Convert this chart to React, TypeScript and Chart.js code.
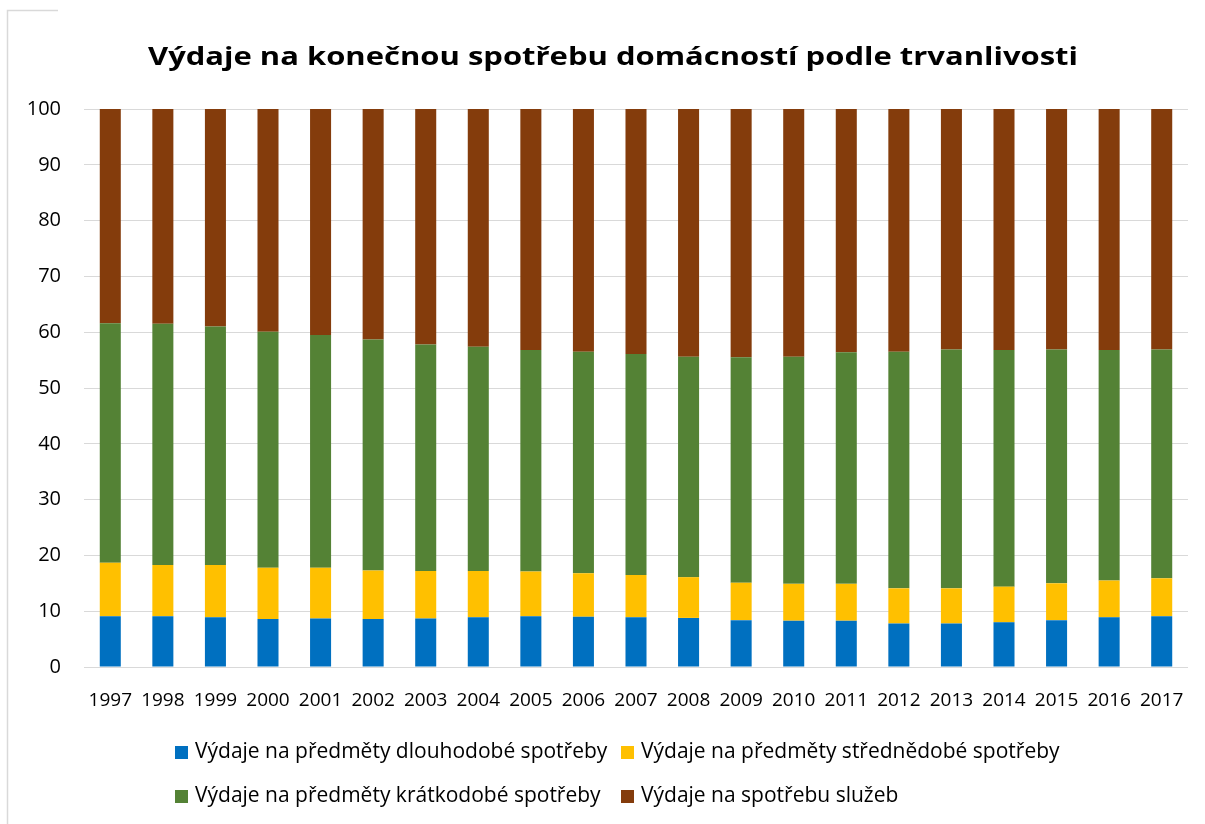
import React, { useEffect, useRef } from "react";
import { Chart, registerables } from "chart.js";

Chart.register(...registerables);

const TITLE = "Výdaje na konečnou spotřebu domácností podle trvanlivosti";

const years = [
  "1997", "1998", "1999", "2000", "2001", "2002", "2003", "2004", "2005", "2006", "2007",
  "2008", "2009", "2010", "2011", "2012", "2013", "2014", "2015", "2016", "2017",
];

const longTerm = [9.1, 9.1, 8.9, 8.6, 8.7, 8.6, 8.7, 8.9, 9.1, 9.0, 8.9, 8.8, 8.4, 8.3, 8.3, 7.8, 7.8, 8.0, 8.4, 8.9, 9.1];
const mediumTerm = [9.6, 9.2, 9.4, 9.2, 9.1, 8.7, 8.5, 8.3, 8.0, 7.8, 7.6, 7.3, 6.7, 6.6, 6.6, 6.3, 6.3, 6.4, 6.6, 6.6, 6.8];
const shortTerm = [42.9, 43.2, 42.7, 42.3, 41.7, 41.4, 40.6, 40.2, 39.7, 39.7, 39.6, 39.5, 40.4, 40.7, 41.5, 42.4, 42.8, 42.4, 41.9, 41.3, 41.0];
const services = [38.4, 38.5, 39.0, 39.9, 40.5, 41.3, 42.2, 42.6, 43.2, 43.5, 43.9, 44.4, 44.5, 44.4, 43.6, 43.5, 43.1, 43.2, 43.1, 43.2, 43.1];

const seriesNames = [
  "Výdaje na předměty dlouhodobé spotřeby",
  "Výdaje na předměty střednědobé spotřeby",
  "Výdaje na předměty krátkodobé spotřeby",
  "Výdaje na spotřebu služeb",
];
const seriesColors = ["#0070C0", "#FFC000", "#548235", "#843C0C"];

const yMin = 0;
const yMax = 100;
const yStep = 10;

const FONT = "'Open Sans', sans-serif";

const framePlugin = {
  id: "frame",
  beforeDraw(chart: any) {
    const ctx = chart.ctx;
    ctx.save();
    ctx.strokeStyle = "#d9d9d9";
    ctx.lineWidth = 1.5;
    ctx.beginPath();
    ctx.moveTo(58, 10.5);
    ctx.lineTo(7.5, 10.5);
    ctx.lineTo(7.5, 824);
    ctx.stroke();
    ctx.restore();
  },
};

const titlePlugin = {
  id: "stretchedTitle",
  afterDraw(chart: any) {
    const ctx = chart.ctx;
    ctx.save();
    ctx.font = `bold 25px ${FONT}`;
    ctx.fillStyle = "#000";
    ctx.textAlign = "center";
    ctx.textBaseline = "alphabetic";
    const w = ctx.measureText(TITLE).width;
    const target = 930;
    const sx = target / w;
    ctx.translate(613, 65);
    ctx.scale(sx, 1);
    ctx.fillText(TITLE, 0, 0);
    ctx.restore();
  },
};

const gridLegendPlugin = {
  id: "gridLegend",
  afterDraw(chart: any) {
    const ctx = chart.ctx;
    const cols = [175, 621];
    const baselines = [758, 802];
    ctx.save();
    ctx.font = `21px ${FONT}`;
    ctx.textBaseline = "alphabetic";
    ctx.textAlign = "left";
    chart.data.datasets.forEach((ds: any, i: number) => {
      const x = cols[i % 2];
      const b = baselines[Math.floor(i / 2)];
      ctx.fillStyle = ds.backgroundColor;
      ctx.fillRect(x, b - 12, 13, 13);
      ctx.fillStyle = "#000";
      ctx.fillText(ds.label, x + 20, b);
    });
    ctx.restore();
  },
};

export default function App() {
  const ref = useRef<HTMLCanvasElement>(null);

  useEffect(() => {
    if (!ref.current) return;
    const series = [longTerm, mediumTerm, shortTerm, services];
    const chart = new Chart(ref.current, {
      type: "bar",
      data: {
        labels: years,
        datasets: series.map((d, i) => ({
          label: seriesNames[i],
          data: d,
          backgroundColor: seriesColors[i],
          borderWidth: 0,
          barPercentage: 0.4,
          categoryPercentage: 1.0,
        })),
      },
      options: {
        animation: false,
        responsive: false,
        layout: { padding: { left: 0, right: 17, top: 109, bottom: 0 } },
        plugins: {
          legend: { display: false },
          tooltip: { enabled: false },
          title: { display: false },
        },
        scales: {
          x: {
            stacked: true,
            grid: { display: false },
            border: { display: false },
            ticks: {
              color: "#000",
              font: { family: FONT, size: 19 },
              padding: 14,
              maxRotation: 0,
              autoSkip: false,
            },
            afterFit: (s: any) => {
              s.height = 157;
            },
          },
          y: {
            stacked: true,
            min: yMin,
            max: yMax,
            ticks: {
              stepSize: yStep,
              color: "#000",
              font: { family: FONT, size: 20 },
              padding: 23,
            },
            grid: { color: "#d9d9d9", lineWidth: 1, drawTicks: false },
            border: { display: false },
            afterFit: (s: any) => {
              s.width = 84;
            },
          },
        },
      },
      plugins: [framePlugin, titlePlugin, gridLegendPlugin],
    });
    return () => chart.destroy();
  }, []);

  return (
    <div style={{ position: "fixed", left: 0, top: 0, width: 1205, height: 824, background: "#fff" }}>
      <canvas ref={ref} width={1205} height={824} />
    </div>
  );
}
